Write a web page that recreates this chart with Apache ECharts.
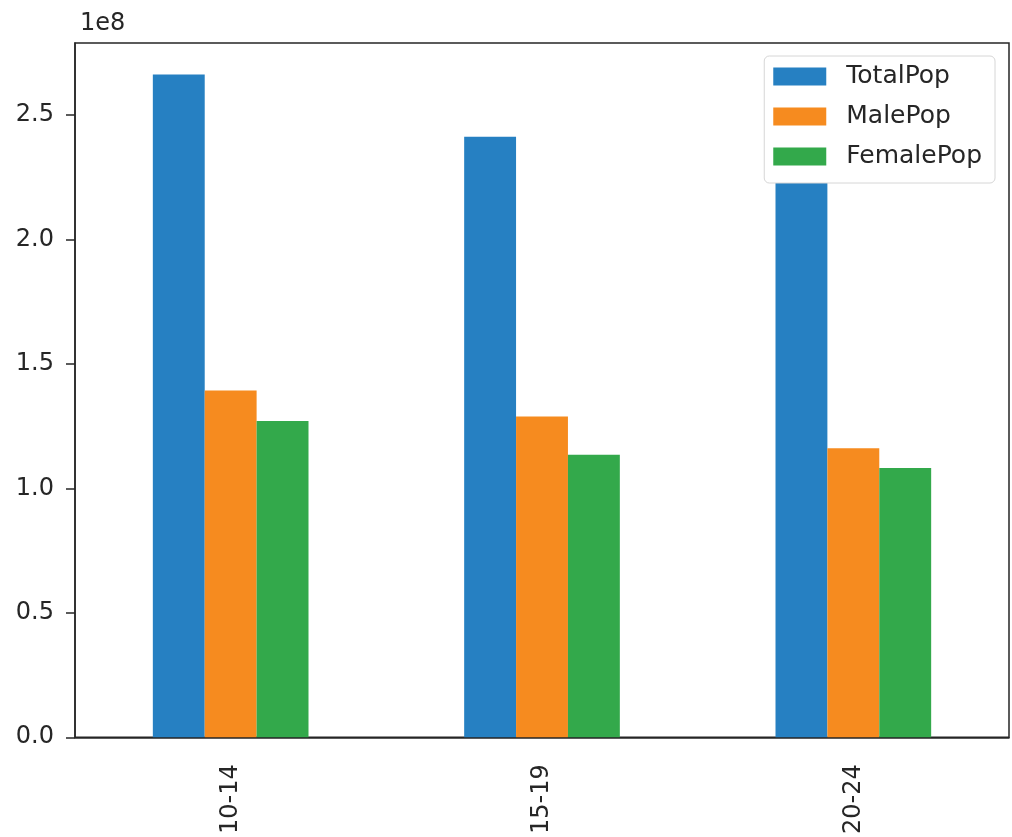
<!DOCTYPE html>
<html>
<head>
<meta charset="utf-8">
<script src="https://cdn.jsdelivr.net/npm/echarts@6/dist/echarts.min.js"></script>
<style>
html,body{margin:0;padding:0;background:#fff;}
#chart{width:1012px;height:837px;}
</style>
</head>
<body>
<div id="chart"></div>
<script>
const categories = ['10-14', '15-19', '20-24'];
const totalPop = [2.663e8, 2.413e8, 2.243e8];
const malePop = [1.394e8, 1.289e8, 1.161e8];
const femalePop = [1.271e8, 1.135e8, 1.082e8];
const seriesNames = ['TotalPop', 'MalePop', 'FemalePop'];

const FONT = 'DejaVu Sans';
const TXT = '#262626';
const chart = echarts.init(document.getElementById('chart'));
chart.setOption({
  animation: false,
  backgroundColor: '#fff',
  color: ['#2680c2', '#f68b1f', '#33a94b'],
  title: {
    text: '1e8', left: 75, top: 7,
    textStyle: {fontFamily: FONT, fontSize: 24, fontWeight: 'normal', color: TXT}
  },
  legend: {
    data: seriesNames,
    orient: 'vertical',
    right: 17, top: 56,
    itemWidth: 53, itemHeight: 18, itemGap: 15,
    padding: [8, 13, 14, 9],
    borderColor: '#d6d6d6', borderWidth: 1, borderRadius: 5,
    backgroundColor: '#fff',
    icon: 'rect',
    textStyle: {fontFamily: FONT, fontSize: 25, color: TXT, padding: [0, 0, 0, 15]}
  },
  grid: {
    left: 75, right: 3, top: 43, bottom: 98,
    show: true, borderColor: '#262626', borderWidth: 1.5, backgroundColor: 'transparent'
  },
  xAxis: {
    type: 'category',
    data: categories,
    axisLine: {lineStyle: {color: '#262626', width: 1.5}},
    axisTick: {alignWithLabel: true, length: 9, lineStyle: {color: '#262626', width: 1.5}},
    axisLabel: {rotate: 90, margin: 27, fontFamily: FONT, fontSize: 24, color: TXT}
  },
  yAxis: {
    type: 'value',
    min: 0, max: 2.79e8, interval: 0.5e8,
    splitLine: {show: false},
    axisLine: {show: true, lineStyle: {color: '#262626', width: 1.5}},
    axisTick: {show: true, length: 9, lineStyle: {color: '#262626', width: 1.5}},
    axisLabel: {
      showMaxLabel: false,
      margin: 21, fontFamily: FONT, fontSize: 24, color: TXT,
      formatter: function (v) {
        const k = v / 0.5e8;
        if (Math.abs(k - Math.round(k)) > 1e-6) return '';
        return (v / 1e8).toFixed(1);
      }
    }
  },
  series: [
    {name: seriesNames[0], type: 'bar', data: totalPop, barGap: '0%', barCategoryGap: '50%'},
    {name: seriesNames[1], type: 'bar', data: malePop, barGap: '0%', barCategoryGap: '50%'},
    {name: seriesNames[2], type: 'bar', data: femalePop, barGap: '0%', barCategoryGap: '50%'}
  ]
});
</script>
</body>
</html>
